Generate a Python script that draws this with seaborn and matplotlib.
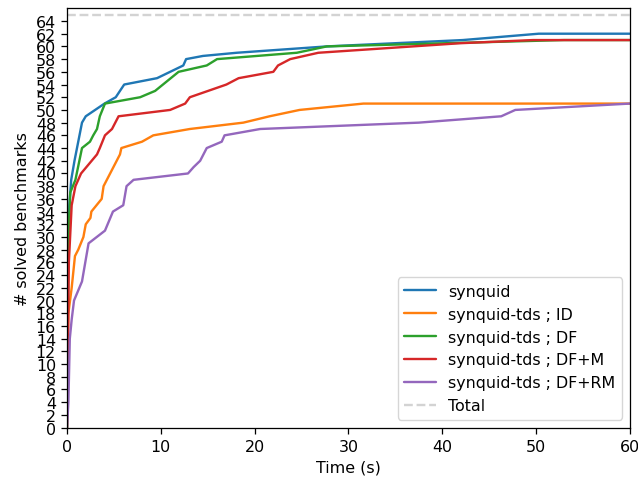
import numpy as np
import pandas as pd
import matplotlib
matplotlib.use("Agg")
import matplotlib.pyplot as plt
import seaborn as sns

# Cumulative solved benchmarks over time (vertices)
synquid_t = [0.0, 0.1, 0.25, 0.45, 0.8, 1.2, 1.6, 2.0, 3.0, 4.0, 5.2, 6.1, 9.6, 12.4, 12.7, 14.5, 18.1, 27.7, 42.2, 50.3, 60.0]
synquid_y = [0, 28, 35, 39, 42, 45, 48, 49, 50, 51, 52, 54, 55, 57, 58, 58.5, 59, 60, 61, 62, 62]

id_t = [0.0, 0.05, 0.15, 0.5, 0.85, 1.2, 1.75, 2.0, 2.5, 2.6, 3.7, 3.9, 4.6, 5.65, 5.8, 8.0, 9.2, 13.1, 18.8, 21.6, 24.8, 31.6, 60.0]
id_y = [0, 10, 18, 22, 27, 28, 30, 32, 33, 34, 36, 38, 40, 43, 44, 45, 46, 47, 48, 49, 50, 51, 51]

df_t = [0.0, 0.15, 0.35, 0.9, 1.6, 2.45, 2.8, 3.2, 3.5, 4.05, 7.8, 9.4, 11.9, 14.9, 16.0, 24.5, 27.7, 53.0, 60.0]
df_y = [0, 30, 37, 39, 44, 45, 46, 47, 49, 51, 52, 53, 56, 57, 58, 59, 60, 61, 61]

dfm_t = [0.0, 0.2, 0.5, 0.9, 1.5, 3.2, 3.5, 4.05, 4.8, 5.5, 11.0, 12.6, 13.1, 17.0, 18.3, 22.0, 22.5, 23.8, 26.8, 41.9, 49.7, 60.0]
dfm_y = [0, 26, 35, 38, 40, 43, 44, 46, 47, 49, 50, 51, 52, 54, 55, 56, 57, 58, 59, 60.5, 61, 61]

dfrm_t = [0.0, 0.15, 0.3, 0.5, 0.75, 1.6, 2.3, 4.05, 4.9, 6.0, 6.35, 7.1, 12.9, 13.5, 14.2, 14.9, 16.5, 16.8, 20.6, 37.5, 46.3, 47.8, 60.0]
dfrm_y = [0, 4, 14, 17, 20, 23, 29, 31, 34, 35, 38, 39, 40, 41, 42, 44, 45, 46, 47, 48, 49, 50, 51]

labels = ["synquid", "synquid-tds ; ID", "synquid-tds ; DF", "synquid-tds ; DF+M", "synquid-tds ; DF+RM"]
total = 65

series = [(synquid_t, synquid_y), (id_t, id_y), (df_t, df_y), (dfm_t, dfm_y), (dfrm_t, dfrm_y)]
frames = []
for lab, (t, y) in zip(labels, series):
    frames.append(pd.DataFrame({"time": t, "solved": y, "solver": lab}))
data = pd.concat(frames, ignore_index=True)

sns.set_style("white")
scale = 1.14
plt.rcParams["font.size"] = 10 * scale
for k in ["text.color", "axes.labelcolor", "xtick.color", "ytick.color"]:
    plt.rcParams[k] = "black"

fig = plt.figure(figsize=(6.38, 4.81), dpi=100)
ax = fig.add_axes([0.105, 0.109, 0.882, 0.873])

sns.lineplot(data=data, x="time", y="solved", hue="solver", hue_order=labels,
             palette="tab10", sort=False, estimator=None, ax=ax, linewidth=1.5 * scale)
ax.axhline(total, ls="--", color="lightgray", label="Total", linewidth=1.5 * scale)

ax.set_xlim(0, 60)
ax.set_ylim(0, 66.1)
ax.set_yticks(np.arange(0, 65, 2))
ax.set_xticks(np.arange(0, 61, 10))
ax.set_xlabel("Time (s)", fontsize=10 * scale)
ax.set_ylabel("# solved benchmarks", fontsize=10 * scale)
ax.tick_params(axis="both", which="both", direction="out", length=3.5 * scale, width=0.8 * scale,
               bottom=True, left=True, labelsize=10 * scale, color="black", pad=3.5 * scale)
for s in ax.spines.values():
    s.set_color("black")
    s.set_linewidth(0.8 * scale)
ax.legend(loc="lower right", fontsize=10 * scale)

fig.savefig("out.png", dpi=100)
